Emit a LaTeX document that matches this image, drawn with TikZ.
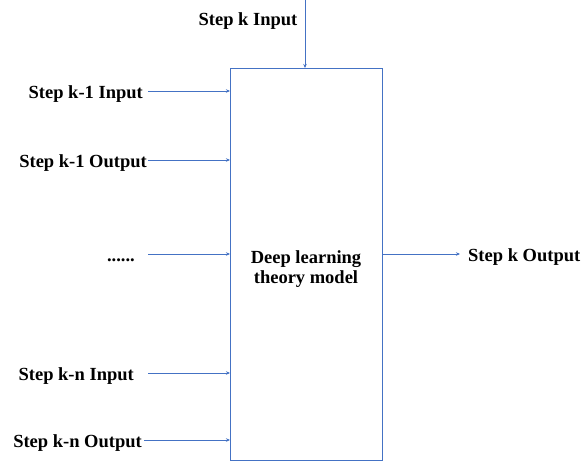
\documentclass[tikz,border=0pt]{standalone}
\usepackage{fontspec}
\setmainfont{Liberation Serif}
\usetikzlibrary{arrows.meta}
\definecolor{lineblue}{RGB}{68,114,196}
\begin{document}
\begin{tikzpicture}[x=1pt,y=-1pt,
  lbl/.style={font=\fontsize{18.5}{20}\selectfont\bfseries, inner sep=0pt},
  link/.style={draw=lineblue, line width=0.9pt, -{Stealth[length=4pt,width=3.5pt]}}]
\useasboundingbox (0,0) rectangle (586,463);
% central model block
\node[draw=lineblue, line width=1.3pt, minimum width=152pt, minimum height=392pt,
      inner sep=0pt, anchor=north west] (model) at (230,68) {};
\node[lbl, align=center, anchor=base] (mtext) at (306,283) {Deep learning\\theory model};
% top input
\node[lbl, anchor=base] (kin) at (248,25) {Step k Input};
\coordinate (kintop) at (305,0);
\draw[link] (kintop) -- (model.north -| kintop);
% left inputs
\node[lbl, anchor=base east] (k1in)  at (143,98)  {Step k-1 Input};
\node[lbl, anchor=base east] (k1out) at (147,167) {Step k-1 Output};
\node[lbl, anchor=base east] (dots)  at (135,261) {......};
\node[lbl, anchor=base east] (knin)  at (134,380) {Step k-n Input};
\node[lbl, anchor=base east] (knout) at (142,447) {Step k-n Output};
\coordinate (s1) at (148,91);
\coordinate (s2) at (148,160);
\coordinate (s3) at (148,254);
\coordinate (s4) at (148,373);
\coordinate (s5) at (144,440);
\foreach \s in {s1,s2,s3,s4,s5}
  \draw[link] (\s) -- (model.west |- \s);
% output
\node[lbl, anchor=base west] (kout) at (468,261) {Step k Output};
\draw[link] (model.east |- 0,254) -- ([xshift=-8pt]kout.west |- 0,254);
\end{tikzpicture}
\end{document}
